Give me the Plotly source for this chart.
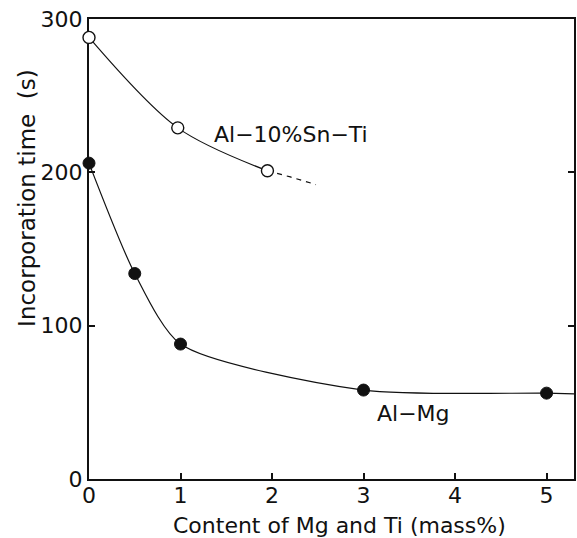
import plotly.graph_objects as go

# Al-Mg alloy: incorporation time vs Mg content
mg_x = [0, 0.5, 1, 3, 5]
mg_y = [206, 134, 88, 58, 56]
mg_curve_x = [0, 0.5, 1, 3, 5, 5.3]
mg_curve_y = [206, 134, 88, 58, 56, 55.5]

# Al-10%Sn-Ti alloy: incorporation time vs Ti content
ti_x = [0, 0.97, 1.95]
ti_y = [288, 229, 201]
ti_ext_x = [1.95, 2.2, 2.48]
ti_ext_y = [201, 197, 192]

x_ticks = [0, 1, 2, 3, 4, 5]
y_ticks = [0, 100, 200, 300]

FONT = "DejaVu Sans"
INK = "#111111"

fig = go.Figure()

fig.add_trace(go.Scatter(x=mg_curve_x, y=mg_curve_y, mode="lines",
                         line=dict(color=INK, width=1.2, shape="spline", smoothing=0.7),
                         hoverinfo="skip", cliponaxis=False))
fig.add_trace(go.Scatter(x=ti_x, y=ti_y, mode="lines",
                         line=dict(color=INK, width=1.2, shape="spline", smoothing=0.9),
                         hoverinfo="skip", cliponaxis=False))
fig.add_trace(go.Scatter(x=ti_ext_x, y=ti_ext_y, mode="lines",
                         line=dict(color=INK, width=1.2, dash="5px,5px"),
                         hoverinfo="skip"))

fig.add_trace(go.Scatter(x=mg_x, y=mg_y, mode="markers",
                         marker=dict(size=12, color=INK, line=dict(color=INK, width=1)),
                         cliponaxis=False, name="Al-Mg"))
fig.add_trace(go.Scatter(x=ti_x, y=ti_y, mode="markers",
                         marker=dict(size=12, color="white", line=dict(color=INK, width=1.4)),
                         cliponaxis=False, name="Al-10%Sn-Ti"))

fig.add_annotation(x=1.34, y=225, text="Al−10%Sn−Ti", showarrow=False,
                   xanchor="left", yanchor="middle",
                   font=dict(family=FONT, size=22, color=INK))
fig.add_annotation(x=3.13, y=43, text="Al−Mg", showarrow=False,
                   xanchor="left", yanchor="middle",
                   font=dict(family=FONT, size=22, color=INK))

# axis titles placed as paper annotations
fig.add_annotation(x=-0.127, y=0.612, xref="paper", yref="paper",
                   text="Incorporation time  (s)",
                   showarrow=False, textangle=-90, xanchor="center", yanchor="middle",
                   font=dict(family=FONT, size=23, color=INK))
fig.add_annotation(x=0.517, y=-0.1, xref="paper", yref="paper",
                   text="Content of Mg and Ti (mass%)",
                   showarrow=False, xanchor="center", yanchor="middle",
                   font=dict(family=FONT, size=22, color=INK))

fig.update_layout(
    width=577, height=538,
    margin=dict(l=89, r=1, t=19, b=59, pad=0),
    paper_bgcolor="white", plot_bgcolor="white",
    showlegend=False,
    font=dict(family=FONT, size=22, color=INK),
)

fig.update_xaxes(range=[0, 5.3], tickvals=x_ticks, ticktext=[str(v) for v in x_ticks],
                 ticks="inside", ticklen=6, tickwidth=1.5, tickcolor=INK,
                 ticklabelstandoff=-4,
                 showline=True, linewidth=2, linecolor=INK, mirror=True,
                 showgrid=False, zeroline=False, layer="below traces")
fig.update_yaxes(range=[0, 300], tickvals=y_ticks, ticktext=[str(v) for v in y_ticks],
                 ticks="inside", ticklen=6, tickwidth=1.5, tickcolor=INK,
                 showline=True, linewidth=2, linecolor=INK, mirror="ticks",
                 showgrid=False, zeroline=False, layer="below traces")

fig.write_html("out.html", config={"displayModeBar": False})
